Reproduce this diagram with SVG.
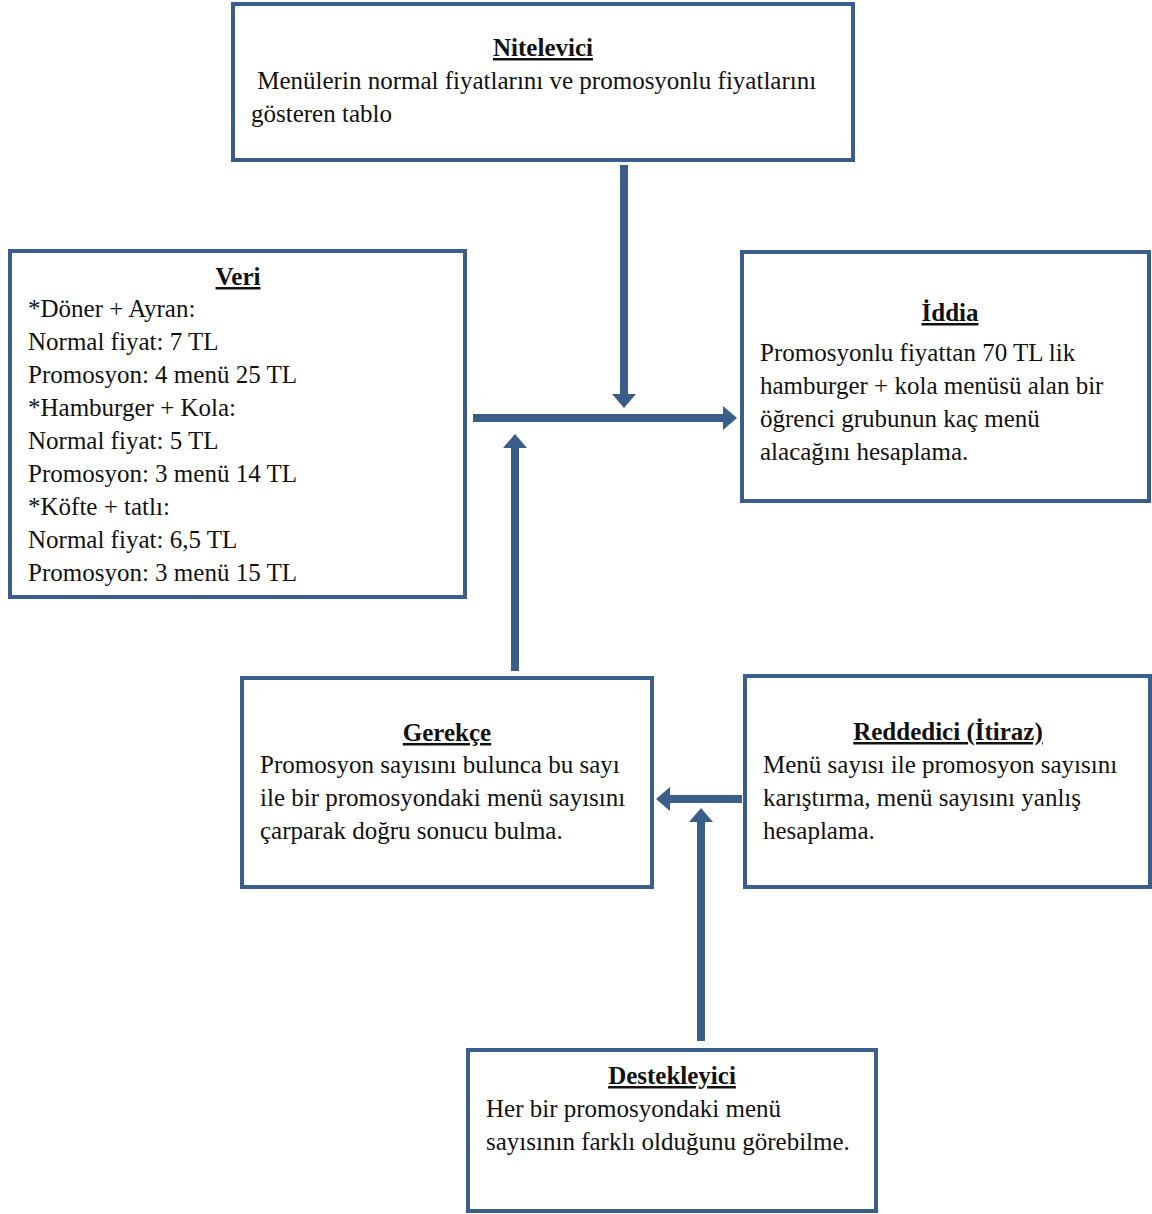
<svg xmlns="http://www.w3.org/2000/svg" width="1152" height="1214" viewBox="0 0 1152 1214">
  <style>
    .box { fill: #ffffff; stroke: #3b5d8a; stroke-width: 4; }
    .txt { font-family: "Liberation Serif", "Times New Roman", serif; font-size: 25px; fill: #111111; }
    .ttl { font-weight: bold; text-decoration: underline; text-anchor: middle; }
    .conn { stroke: #3b5d8a; stroke-width: 8; fill: none; marker-end: url(#head); }
  </style>
  <defs>
    <marker id="head" markerUnits="strokeWidth" markerWidth="2" markerHeight="3" refX="0" refY="1.5" orient="auto">
      <path d="M0,0 L1.75,1.5 L0,3 Z" fill="#3b5d8a"/>
    </marker>
  </defs>
  <rect width="1152" height="1214" fill="#ffffff"/>

  <!-- connectors -->
  <g id="connectors">
    <line class="conn" x1="624" y1="165" x2="624" y2="394"/>
    <line class="conn" x1="473" y1="418" x2="723" y2="418"/>
    <line class="conn" x1="515" y1="671" x2="515" y2="448"/>
    <line class="conn" x1="742" y1="799" x2="670" y2="799"/>
    <line class="conn" x1="701" y1="1041" x2="701" y2="822"/>
  </g>

  <g id="nitelevici">
    <rect class="box" x="233" y="4" width="620" height="156"/>
    <text class="txt ttl" x="543" y="56">Nitelevici</text>
    <text class="txt" x="251" y="89" xml:space="preserve"> Menülerin normal fiyatlarını ve promosyonlu fiyatlarını</text>
    <text class="txt" x="251" y="122">gösteren tablo</text>
  </g>

  <g id="veri">
    <rect class="box" x="10" y="251" width="455" height="346"/>
    <text class="txt ttl" x="238" y="285">Veri</text>
    <text class="txt" x="28" y="317">*Döner + Ayran:</text>
    <text class="txt" x="28" y="350">Normal fiyat: 7 TL</text>
    <text class="txt" x="28" y="383">Promosyon: 4 menü 25 TL</text>
    <text class="txt" x="28" y="416">*Hamburger + Kola:</text>
    <text class="txt" x="28" y="449">Normal fiyat: 5 TL</text>
    <text class="txt" x="28" y="482">Promosyon: 3 menü 14 TL</text>
    <text class="txt" x="28" y="515">*Köfte + tatlı:</text>
    <text class="txt" x="28" y="548">Normal fiyat: 6,5 TL</text>
    <text class="txt" x="28" y="581">Promosyon: 3 menü 15 TL</text>
  </g>

  <g id="iddia">
    <rect class="box" x="742" y="252" width="407" height="249"/>
    <text class="txt ttl" x="950" y="321">İddia</text>
    <text class="txt" x="760" y="361">Promosyonlu fiyattan 70 TL lik</text>
    <text class="txt" x="760" y="394">hamburger + kola menüsü alan bir</text>
    <text class="txt" x="760" y="427">öğrenci grubunun kaç menü</text>
    <text class="txt" x="760" y="460">alacağını hesaplama.</text>
  </g>

  <g id="gerekce">
    <rect class="box" x="242" y="678" width="410" height="209"/>
    <text class="txt ttl" x="447" y="741">Gerekçe</text>
    <text class="txt" x="260" y="773">Promosyon sayısını bulunca bu sayı</text>
    <text class="txt" x="260" y="806">ile bir promosyondaki menü sayısını</text>
    <text class="txt" x="260" y="839">çarparak doğru sonucu bulma.</text>
  </g>

  <g id="reddedici">
    <rect class="box" x="745" y="676" width="405" height="211"/>
    <text class="txt ttl" x="948" y="740">Reddedici (İtiraz)</text>
    <text class="txt" x="763" y="773">Menü sayısı ile promosyon sayısını</text>
    <text class="txt" x="763" y="806">karıştırma, menü sayısını yanlış</text>
    <text class="txt" x="763" y="839">hesaplama.</text>
  </g>

  <g id="destekleyici">
    <rect class="box" x="468" y="1050" width="408" height="161"/>
    <text class="txt ttl" x="672" y="1084">Destekleyici</text>
    <text class="txt" x="486" y="1117">Her bir promosyondaki menü</text>
    <text class="txt" x="486" y="1150">sayısının farklı olduğunu görebilme.</text>
  </g>
</svg>
